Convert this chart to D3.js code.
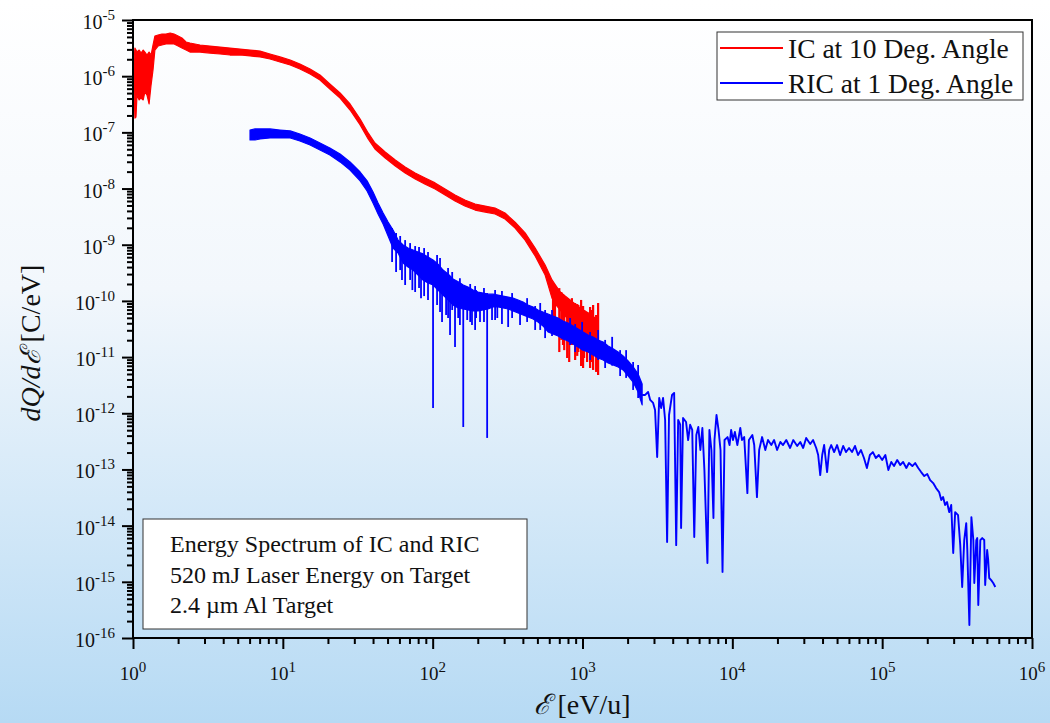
<!DOCTYPE html>
<html>
<head>
<meta charset="utf-8">
<script src="https://cdn.jsdelivr.net/npm/d3@7"></script>
<style>
  html, body { margin: 0; padding: 0; }
  body { width: 1050px; height: 723px; overflow: hidden; }
  svg { display: block; font-family: 'Liberation Serif', 'Times New Roman', serif; }
  text { white-space: pre; }
</style>
</head>
<body>
<svg width="1050" height="723"></svg>
<script>
// tick exponents
const xExponents = [0, 1, 2, 3, 4, 5, 6];
const yExponents = [-16, -15, -14, -13, -12, -11, -10, -9, -8, -7, -6, -5];

const legendLabels = ['IC at 10 Deg. Angle', 'RIC at 1 Deg. Angle'];
const noteLines = ['Energy Spectrum of IC and RIC', '520 mJ Laser Energy on Target', '2.4 \u00b5m Al Target'];

// IC (10 deg) noise band: [energy eV/u, upper dQ/dE, lower dQ/dE]
const icBand = [
  [1.015, 1.94e-6, 5.68e-7], [1.03, 3.17e-6, 1.80e-7], [1.047, 2.92e-6, 1.88e-7], [1.063, 2.69e-6, 4.6e-7],
  [1.10, 2.92e-6, 3.77e-7], [1.13, 2.58e-6, 4.1e-7], [1.17, 2.92e-6, 3.77e-7], [1.20, 2.69e-6, 5.24e-7],
  [1.24, 2.38e-6, 4.6e-7], [1.28, 2.69e-6, 3.2e-7], [1.32, 2.38e-6, 6.95e-7], [1.36, 3.59e-6, 1.29e-6],
  [1.40, 5.19e-6, 2.92e-6], [1.47, 5.4e-6, 3.44e-6], [1.56, 5.63e-6, 3.59e-6], [1.66, 5.63e-6, 3.74e-6],
  [1.77, 5.87e-6, 3.74e-6], [1.88, 5.63e-6, 3.74e-6], [2.0, 5.19e-6, 3.44e-6], [2.12, 4.78e-6, 3.17e-6],
  [2.26, 4.06e-6, 2.92e-6], [2.40, 3.9e-6, 2.69e-6], [2.59, 3.74e-6, 2.69e-6], [2.80, 3.59e-6, 2.69e-6],
  [3.26, 3.44e-6, 2.58e-6], [3.81, 3.3e-6, 2.48e-6], [4.44, 3.17e-6, 2.38e-6], [5.18, 3.04e-6, 2.38e-6],
  [6.04, 2.92e-6, 2.29e-6], [7.05, 2.8e-6, 2.2e-6], [8.21, 2.48e-6, 2.02e-6], [9.57, 2.2e-6, 1.79e-6],
  [11.2, 1.94e-6, 1.58e-6], [13.0, 1.65e-6, 1.34e-6], [15.2, 1.34e-6, 1.09e-6], [17.7, 1.05e-6, 8.56e-7],
  [20.6, 7.26e-7, 5.93e-7], [24.1, 5.02e-7, 4.09e-7], [28.1, 3.2e-7, 2.5e-7], [32.8, 1.73e-7, 1.36e-7],
  [37.1, 9.76e-8, 7.63e-8], [41.2, 6.47e-8, 5.07e-8], [48.2, 4.48e-8, 3.5e-8], [56.3, 3.22e-8, 2.52e-8],
  [65.5, 2.42e-8, 1.89e-8], [76.4, 1.89e-8, 1.48e-8], [89.1, 1.54e-8, 1.2e-8], [103.8, 1.26e-8, 9.8e-9],
  [121, 9.8e-9, 7.66e-9], [141, 7.66e-9, 5.99e-9], [164, 6.24e-9, 4.88e-9], [192, 5.3e-9, 4.14e-9],
  [224, 4.88e-9, 3.81e-9], [261, 4.5e-9, 3.52e-9], [304, 3.67e-9, 2.86e-9], [355, 2.53e-9, 1.98e-9],
  [414, 1.62e-9, 1.21e-9], [483, 8.73e-10, 6.29e-10], [563, 4.35e-10, 2.89e-10], [626, 2.36e-10, 1.12e-10],
  [667, 1.84e-10, 8.45e-11], [711, 1.44e-10, 6.89e-11], [766, 1.22e-10, 5.39e-11], [827, 1.04e-10, 4.22e-11],
  [893, 8.8e-11, 3.3e-11], [963, 7.47e-11, 2.68e-11], [1040, 6.61e-11, 2.37e-11], [1124, 5.85e-11, 2.02e-11],
  [1214, 4.96e-11, 1.64e-11], [1271, 4.57e-11, 1.45e-11]
];

// IC single spikes: [energy, top, bottom]
const icSpikes = [
  [636, 2.08e-10, 3.04e-11], [655, 1.92e-10, 2.47e-11], [700, 1.69e-10, 1.23e-11], [722, 1.44e-10, 2.02e-11],
  [741, 1.32e-10, 1.64e-11], [755, 1.04e-10, 1.33e-11], [790, 1.12e-10, 9.63e-12], [815, 1.04e-10, 8.18e-12],
  [850, 1.12e-10, 1.64e-11], [893, 9.17e-11, 8.88e-12], [922, 8.8e-11, 1.05e-11], [938, 8.45e-11, 1.23e-11],
  [979, 1.04e-10, 6.94e-12], [1009, 8.11e-11, 6.4e-12], [1025, 6.89e-11, 9.63e-12], [1073, 6.34e-11, 8.18e-12],
  [1124, 7.79e-11, 6.4e-12], [1159, 6.89e-11, 8.18e-12], [1177, 8.45e-11, 5.9e-12], [1233, 5.62e-11, 5.44e-12],
  [1271, 9.17e-11, 4.8e-12]
];

// RIC (1 deg) noise band: [energy, upper, lower]
const ricBand = [
  [6.04, 1.1e-7, 7.32e-8], [6.53, 1.15e-7, 7.32e-8], [7.05, 1.15e-7, 7.63e-8], [8.21, 1.15e-7, 7.95e-8],
  [9.57, 1.1e-7, 7.95e-8], [11.2, 1.06e-7, 7.95e-8], [13.0, 9.36e-8, 7.03e-8], [15.2, 7.95e-8, 5.97e-8],
  [17.7, 6.47e-8, 4.86e-8], [20.6, 5.27e-8, 3.96e-8], [24.1, 4.13e-8, 2.98e-8], [28.1, 2.98e-8, 2.14e-8],
  [32.8, 1.97e-8, 1.37e-8], [36.5, 1.37e-8, 9.03e-9], [40.0, 8.66e-9, 5.52e-9], [43.2, 5.52e-9, 3.52e-9],
  [46.7, 3.67e-9, 2.34e-9], [50.4, 2.53e-9, 1.43e-9], [54.4, 1.83e-9, 8.73e-10], [58.8, 1.21e-9, 7.11e-10],
  [63.5, 9.88e-10, 4.72e-10], [68.5, 8.73e-10, 4.0e-10], [74.0, 8.05e-10, 3.54e-10], [79.9, 7.42e-10, 2.89e-10],
  [86.2, 6.86e-10, 2.36e-10], [93.1, 6.03e-10, 2.08e-10], [100.6, 5.35e-10, 1.92e-10], [108.6, 4.52e-10, 1.56e-10],
  [117.3, 3.54e-10, 1.27e-10], [126.7, 3.01e-10, 1.04e-10], [136.8, 2.45e-10, 8.45e-11], [148, 2.19e-10, 7.47e-11],
  [160, 1.92e-10, 7.18e-11], [172, 1.76e-10, 6.89e-11], [186, 1.56e-10, 6.61e-11], [201, 1.44e-10, 6.61e-11],
  [217, 1.38e-10, 6.89e-11], [234, 1.32e-10, 7.18e-11], [253, 1.32e-10, 7.79e-11], [273, 1.27e-10, 7.79e-11],
  [295, 1.22e-10, 7.47e-11], [319, 1.17e-10, 7.18e-11], [344, 1.12e-10, 6.61e-11], [372, 1.04e-10, 6.09e-11],
  [401, 9.56e-11, 5.62e-11], [433, 8.45e-11, 5.17e-11], [468, 7.79e-11, 4.76e-11], [505, 6.89e-11, 4.22e-11],
  [545, 6.34e-11, 3.58e-11], [589, 5.85e-11, 2.8e-11], [636, 5.39e-11, 2.58e-11], [687, 4.96e-11, 2.37e-11],
  [741, 4.39e-11, 2.1e-11], [800, 4.05e-11, 1.93e-11], [865, 3.58e-11, 1.71e-11], [934, 3.16e-11, 1.51e-11],
  [1009, 2.8e-11, 1.33e-11], [1090, 2.47e-11, 1.23e-11], [1177, 2.28e-11, 1.09e-11], [1271, 2.02e-11, 9.63e-12],
  [1373, 1.86e-11, 8.88e-12], [1483, 1.58e-11, 7.86e-12], [1601, 1.4e-11, 7.24e-12], [1729, 1.23e-11, 6.67e-12],
  [1867, 1.05e-11, 5.9e-12], [2016, 8.52e-12, 4.61e-12], [2177, 6.67e-12, 3.6e-12], [2351, 5.0e-12, 2.39e-12],
  [2500, 3.32e-12, 1.41e-12]
];

// RIC single spikes: [energy, top, bottom]
const ricSpikes = [
  [53.6, 1.98e-9, 4.91e-10], [57.0, 1.62e-9, 3.27e-10], [60.7, 1.43e-9, 3.54e-10], [62.4, 6.55e-10, 2.36e-10],
  [65.5, 1.21e-9, 1.92e-10], [70.7, 1.07e-9, 2.36e-10], [73.2, 4.91e-10, 1.56e-10], [76.4, 9.48e-10, 1.44e-10],
  [81.1, 9.1e-10, 1.69e-10], [83.6, 4.35e-10, 1.12e-10], [87.7, 8.73e-10, 1.22e-10], [93.1, 7.42e-10, 1.04e-10],
  [100.6, 4.35e-10, 1.24e-12], [107, 6.55e-10, 8.45e-11], [112, 5.8e-10, 6.34e-11], [115.5, 2.89e-10, 4.22e-11],
  [122.9, 2.36e-10, 5.62e-11], [126.7, 3.84e-10, 4.96e-11], [130.6, 2.19e-10, 2.47e-11], [135, 3.27e-10, 6.89e-11],
  [141, 1.92e-10, 1.51e-11], [148, 1.92e-10, 4.96e-11], [152, 2.53e-10, 3.72e-11], [160, 1.69e-10, 5.7e-13],
  [170, 1.56e-10, 4.57e-11], [178, 2.0e-10, 4.22e-11], [183, 1.44e-10, 3.72e-11], [192, 1.84e-10, 3.04e-11],
  [195, 1.56e-10, 4.96e-11], [207, 1.44e-10, 4.22e-11], [220, 1.69e-10, 4.22e-11], [231, 1.38e-10, 3.64e-13],
  [249, 1.27e-10, 4.57e-11], [261, 1.56e-10, 4.57e-11], [270, 1.22e-10, 4.96e-11], [290, 1.5e-10, 3.88e-11],
  [319, 1.12e-10, 3.43e-11], [339, 1.38e-10, 4.96e-11], [383, 9.56e-11, 3.72e-11], [427, 1.12e-10, 4.22e-11],
  [483, 8.11e-11, 3.04e-11], [522, 9.17e-11, 3.04e-11], [563, 6.89e-11, 2.18e-11], [626, 6.89e-11, 2.37e-11],
  [827, 4.96e-11, 1.64e-11], [893, 3.88e-11, 1.23e-11], [994, 4.22e-11, 1.33e-11], [1124, 2.8e-11, 8.88e-12],
  [1271, 3.04e-11, 8.88e-12], [1416, 2.02e-11, 6.4e-12], [1577, 2.29e-11, 7.03e-12], [1783, 1.33e-11, 4.61e-12],
  [1955, 1.33e-11, 4.26e-12], [2177, 8.18e-12, 2.6e-12], [2351, 7.24e-12, 1.87e-12]
];

// RIC high energy tail: [energy, dQ/dE]
const ricTail = [
  [2500, 2.12e-12], [2620, 2.12e-12], [2740, 2.39e-12], [2830, 1.73e-12], [2960, 1.53e-12], [3050, 1.14e-12],
  [3150, 1.67e-13], [3250, 1.87e-12], [3350, 1.24e-12], [3450, 1.87e-12], [3560, 7.6e-13], [3670, 5.1e-15],
  [3780, 9.32e-13], [3960, 2.12e-12], [4090, 2.3e-12], [4220, 4.5e-15], [4350, 7.6e-13], [4490, 6.25e-13],
  [4550, 9.06e-15], [4690, 8.24e-13], [4910, 7.0e-13], [5070, 3.34e-13], [5230, 6.25e-13], [5400, 5.05e-13],
  [5570, 6.27e-15], [5750, 4.1e-13], [5930, 5.7e-13], [6120, 2.22e-13], [6310, 5.47e-13], [6510, 9.76e-14],
  [6820, 2.16e-15], [7030, 5.05e-13], [7250, 2.22e-13], [7480, 1.37e-14], [7600, 3.34e-13], [7840, 9.32e-13],
  [8090, 5.05e-13], [8340, 2.22e-13], [8600, 1.5e-15], [8870, 3.34e-13], [9290, 3.77e-13], [9580, 2.72e-13],
  [9820, 5.05e-13], [1.01e4, 3.34e-13], [1.04e4, 4.64e-13], [1.08e4, 2.72e-13], [1.13e4, 5.47e-13], [1.16e4, 3.34e-13],
  [1.2e4, 3.77e-13], [1.26e4, 3.79e-14], [1.29e4, 3.34e-13], [1.36e4, 4.1e-13], [1.4e4, 2.72e-13], [1.46e4, 3.22e-14],
  [1.51e4, 2.22e-13], [1.58e4, 3.77e-13], [1.66e4, 2.22e-13], [1.73e4, 3.34e-13], [1.82e4, 2.72e-13], [1.9e4, 3.34e-13],
  [1.99e4, 2.22e-13], [2.09e4, 3.08e-13], [2.18e4, 2.72e-13], [2.29e4, 3.34e-13], [2.43e4, 2.41e-13], [2.55e4, 3.34e-13],
  [2.71e4, 2.62e-13], [2.84e4, 3.08e-13], [2.97e4, 2.41e-13], [3.11e4, 3.64e-13], [3.31e4, 2.83e-13], [3.46e4, 3.34e-13],
  [3.63e4, 2.41e-13], [3.74e4, 1.81e-13], [3.86e4, 7.95e-14], [3.98e4, 1.81e-13], [4.1e4, 2.72e-13], [4.29e4, 8.99e-14],
  [4.43e4, 2.22e-13], [4.57e4, 2.72e-13], [4.78e4, 2.04e-13], [5.0e4, 2.72e-13], [5.24e4, 1.81e-13], [5.49e4, 2.62e-13],
  [5.74e4, 2.04e-13], [6.01e4, 2.41e-13], [6.29e4, 2.04e-13], [6.59e4, 2.62e-13], [6.9e4, 1.81e-13], [7.22e4, 2.22e-13],
  [7.56e4, 1.6e-13], [7.91e4, 1.06e-13], [8.28e4, 1.81e-13], [8.67e4, 2.04e-13], [9.08e4, 1.6e-13], [9.5e4, 1.81e-13],
  [1.0e5, 1.47e-13], [1.05e5, 1.81e-13], [1.1e5, 9.76e-14], [1.15e5, 1.36e-13], [1.2e5, 1.15e-13], [1.26e5, 1.47e-13],
  [1.32e5, 1.2e-13], [1.38e5, 1.36e-13], [1.45e5, 1.06e-13], [1.51e5, 1.3e-13], [1.59e5, 1.15e-13], [1.66e5, 1.3e-13],
  [1.74e5, 1.06e-13], [1.82e5, 8.99e-14], [1.91e5, 7.63e-14], [2.0e5, 8.28e-14], [2.09e5, 6.47e-14], [2.19e5, 5.72e-14],
  [2.29e5, 4.66e-14], [2.4e5, 3.96e-14], [2.48e5, 2.85e-14], [2.55e5, 3.22e-14], [2.63e5, 2.33e-14], [2.71e5, 2.63e-14],
  [2.8e5, 1.74e-14], [2.89e5, 2.33e-14], [2.98e5, 3.25e-15], [3.07e5, 1.74e-14], [3.21e5, 1.54e-14], [3.32e5, 4.5e-15],
  [3.42e5, 8.08e-16], [3.53e5, 5.54e-15], [3.64e5, 1.11e-14], [3.7e5, 3.68e-15], [3.82e5, 1.7e-16], [3.94e5, 1.42e-14],
  [4.06e5, 5.54e-15], [4.12e5, 9.52e-16], [4.25e5, 5.54e-15], [4.31e5, 6.01e-15], [4.38e5, 3.86e-16], [4.52e5, 5.54e-15],
  [4.65e5, 6.01e-15], [4.8e5, 5.54e-15], [4.87e5, 8.77e-16], [5.02e5, 3.68e-15], [5.1e5, 2.45e-15], [5.18e5, 1.17e-15],
  [5.34e5, 1.07e-15], [5.51e5, 9.52e-16], [5.69e5, 8.08e-16]
];

const icColor = '#ff0000';
const ricColor = '#0000ff';
const textColor = '#111';

const svg = d3.select('svg');
const width = +svg.attr('width');
const height = +svg.attr('height');

const margin = {top: 20, right: 18, bottom: 85, left: 133};
const innerWidth = width - margin.left - margin.right;
const innerHeight = height - margin.top - margin.bottom;

// page background
const grad = svg.append('defs').append('linearGradient')
    .attr('id', 'bg')
    .attr('x1', 0).attr('y1', 0).attr('x2', 0).attr('y2', 1);
grad.append('stop').attr('offset', '0%').attr('stop-color', '#ffffff');
grad.append('stop').attr('offset', '40%').attr('stop-color', '#f2f7fc');
grad.append('stop').attr('offset', '100%').attr('stop-color', '#b6daf4');
svg.append('rect').attr('width', width).attr('height', height).attr('fill', 'url(#bg)');

const xScale = d3.scaleLog().domain([1, 1e6]).range([0, innerWidth]);
const yScale = d3.scaleLog().domain([1e-16, 1e-5]).range([innerHeight, 0]);

const g = svg.append('g')
    .attr('transform', `translate(${margin.left}, ${margin.top})`);

// minor tick positions 2..9 in every decade
const minorTicks = domain => {
    const out = [];
    const lo = Math.round(Math.log10(domain[0]));
    const hi = Math.round(Math.log10(domain[1]));
    for (let e = lo; e < hi; e++) {
        for (let m = 2; m <= 9; m++) out.push(m * Math.pow(10, e));
    }
    return out;
};

const styleTicks = sel => {
    sel.select('.domain').remove();
    sel.selectAll('text').remove();
    sel.selectAll('line').attr('stroke', '#000').attr('stroke-width', 2);
};

const yMajor = g.append('g').call(d3.axisLeft(yScale)
    .tickValues(yExponents.map(e => Math.pow(10, e)))
    .tickSize(11));
styleTicks(yMajor);
const yMinor = g.append('g').call(d3.axisLeft(yScale)
    .tickValues(minorTicks(yScale.domain()))
    .tickSize(6));
styleTicks(yMinor);

const xMajor = g.append('g').attr('transform', `translate(0, ${innerHeight})`)
    .call(d3.axisBottom(xScale)
        .tickValues(xExponents.map(e => Math.pow(10, e)))
        .tickSize(11));
styleTicks(xMajor);
const xMinor = g.append('g').attr('transform', `translate(0, ${innerHeight})`)
    .call(d3.axisBottom(xScale)
        .tickValues(minorTicks(xScale.domain()))
        .tickSize(6));
styleTicks(xMinor);

// plain text helper, returns its width
const addText = (parent, x, y, s, size, anchor, italic) => {
    const t = parent.append('text')
        .attr('x', x).attr('y', y)
        .attr('text-anchor', anchor || 'start')
        .attr('font-size', size)
        .attr('fill', textColor)
        .text(s);
    if (italic) t.attr('font-style', 'italic');
    return t.node().getComputedTextLength();
};

const measure = (parent, s, size, italic) => {
    const t = parent.append('text').attr('font-size', size).text(s);
    if (italic) t.attr('font-style', 'italic');
    const w = t.node().getComputedTextLength();
    t.remove();
    return w;
};

// power-of-ten labels: "10" with a raised exponent
yExponents.forEach(e => {
    const yPos = yScale(Math.pow(10, e));
    const wExp = addText(g, -18, yPos, String(e), 15, 'end');
    addText(g, -18 - wExp, yPos + 9, '10', 20, 'end');
});

xExponents.forEach(e => {
    const xPos = xScale(Math.pow(10, e));
    const wBase = measure(g, '10', 19);
    const wExp = measure(g, String(e), 15);
    const x0 = xPos - (wBase + wExp) / 2;
    addText(g, x0, innerHeight + 42, '10', 19);
    addText(g, x0 + wBase, innerHeight + 34, String(e), 15);
});

// data layers
const band = d3.area()
    .x(d => xScale(d[0]))
    .y0(d => yScale(d[2]))
    .y1(d => yScale(d[1]));

const drawSpikes = (rows, color, cls, w) => {
    g.selectAll('line.' + cls)
        .data(rows)
        .join('line')
        .attr('class', cls)
        .attr('x1', d => xScale(d[0]))
        .attr('x2', d => xScale(d[0]))
        .attr('y1', d => yScale(d[1]))
        .attr('y2', d => yScale(d[2]))
        .attr('stroke', color)
        .attr('stroke-width', w);
};

g.append('path')
    .attr('d', band(icBand))
    .attr('fill', icColor)
    .attr('stroke', icColor)
    .attr('stroke-width', 1.2)
    .attr('stroke-linejoin', 'round');
drawSpikes(icSpikes, icColor, 'ic-spike', 2.2);

g.append('path')
    .attr('d', band(ricBand))
    .attr('fill', ricColor)
    .attr('stroke', ricColor)
    .attr('stroke-width', 1.2)
    .attr('stroke-linejoin', 'round');
drawSpikes(ricSpikes, ricColor, 'ric-spike', 1.8);

const lineGen = d3.line()
    .x(d => xScale(d[0]))
    .y(d => yScale(d[1]));

g.append('path')
    .attr('d', lineGen(ricTail))
    .attr('fill', 'none')
    .attr('stroke', ricColor)
    .attr('stroke-width', 1.9)
    .attr('stroke-linejoin', 'round');

// frame
g.append('rect')
    .attr('width', innerWidth)
    .attr('height', innerHeight)
    .attr('fill', 'none')
    .attr('stroke', '#000')
    .attr('stroke-width', 2);

// legend
const legend = svg.append('g').attr('transform', 'translate(717, 32)');
legend.append('rect')
    .attr('width', 306).attr('height', 68)
    .attr('fill', '#ffffff')
    .attr('stroke', '#333').attr('stroke-width', 1);
[icColor, ricColor].forEach((c, i) => {
    legend.append('line')
        .attr('x1', 3).attr('x2', 66)
        .attr('y1', 16 + i * 35).attr('y2', 16 + i * 35)
        .attr('stroke', c).attr('stroke-width', 2);
    addText(legend, 71, 26 + i * 35, legendLabels[i], 27.5);
});

// note box
const note = svg.append('g').attr('transform', 'translate(143, 519)');
note.append('rect')
    .attr('width', 384).attr('height', 110)
    .attr('fill', '#ffffff')
    .attr('stroke', '#333').attr('stroke-width', 1);
noteLines.forEach((s, i) => addText(note, 27, 33 + i * 30.5, s, 24));

// axis titles: italic symbol part + upright unit part, centred together
const titlePair = (parent, cx, y, symbol, unit) => {
    const gap = 6;
    const wa = measure(parent, symbol, 28, true);
    const wb = measure(parent, unit, 28);
    const x0 = cx - (wa + gap + wb) / 2;
    addText(parent, x0, y, symbol, 28, 'start', true);
    addText(parent, x0 + wa + gap, y, unit, 28);
};

titlePair(svg, margin.left + innerWidth / 2, 714, '\u2130', '[eV/u]');

const yTitle = svg.append('g').attr('transform', 'translate(40, 343) rotate(-90)');
titlePair(yTitle, 0, 0, 'dQ/d\u2130', '[C/eV]');
</script>
</body>
</html>
